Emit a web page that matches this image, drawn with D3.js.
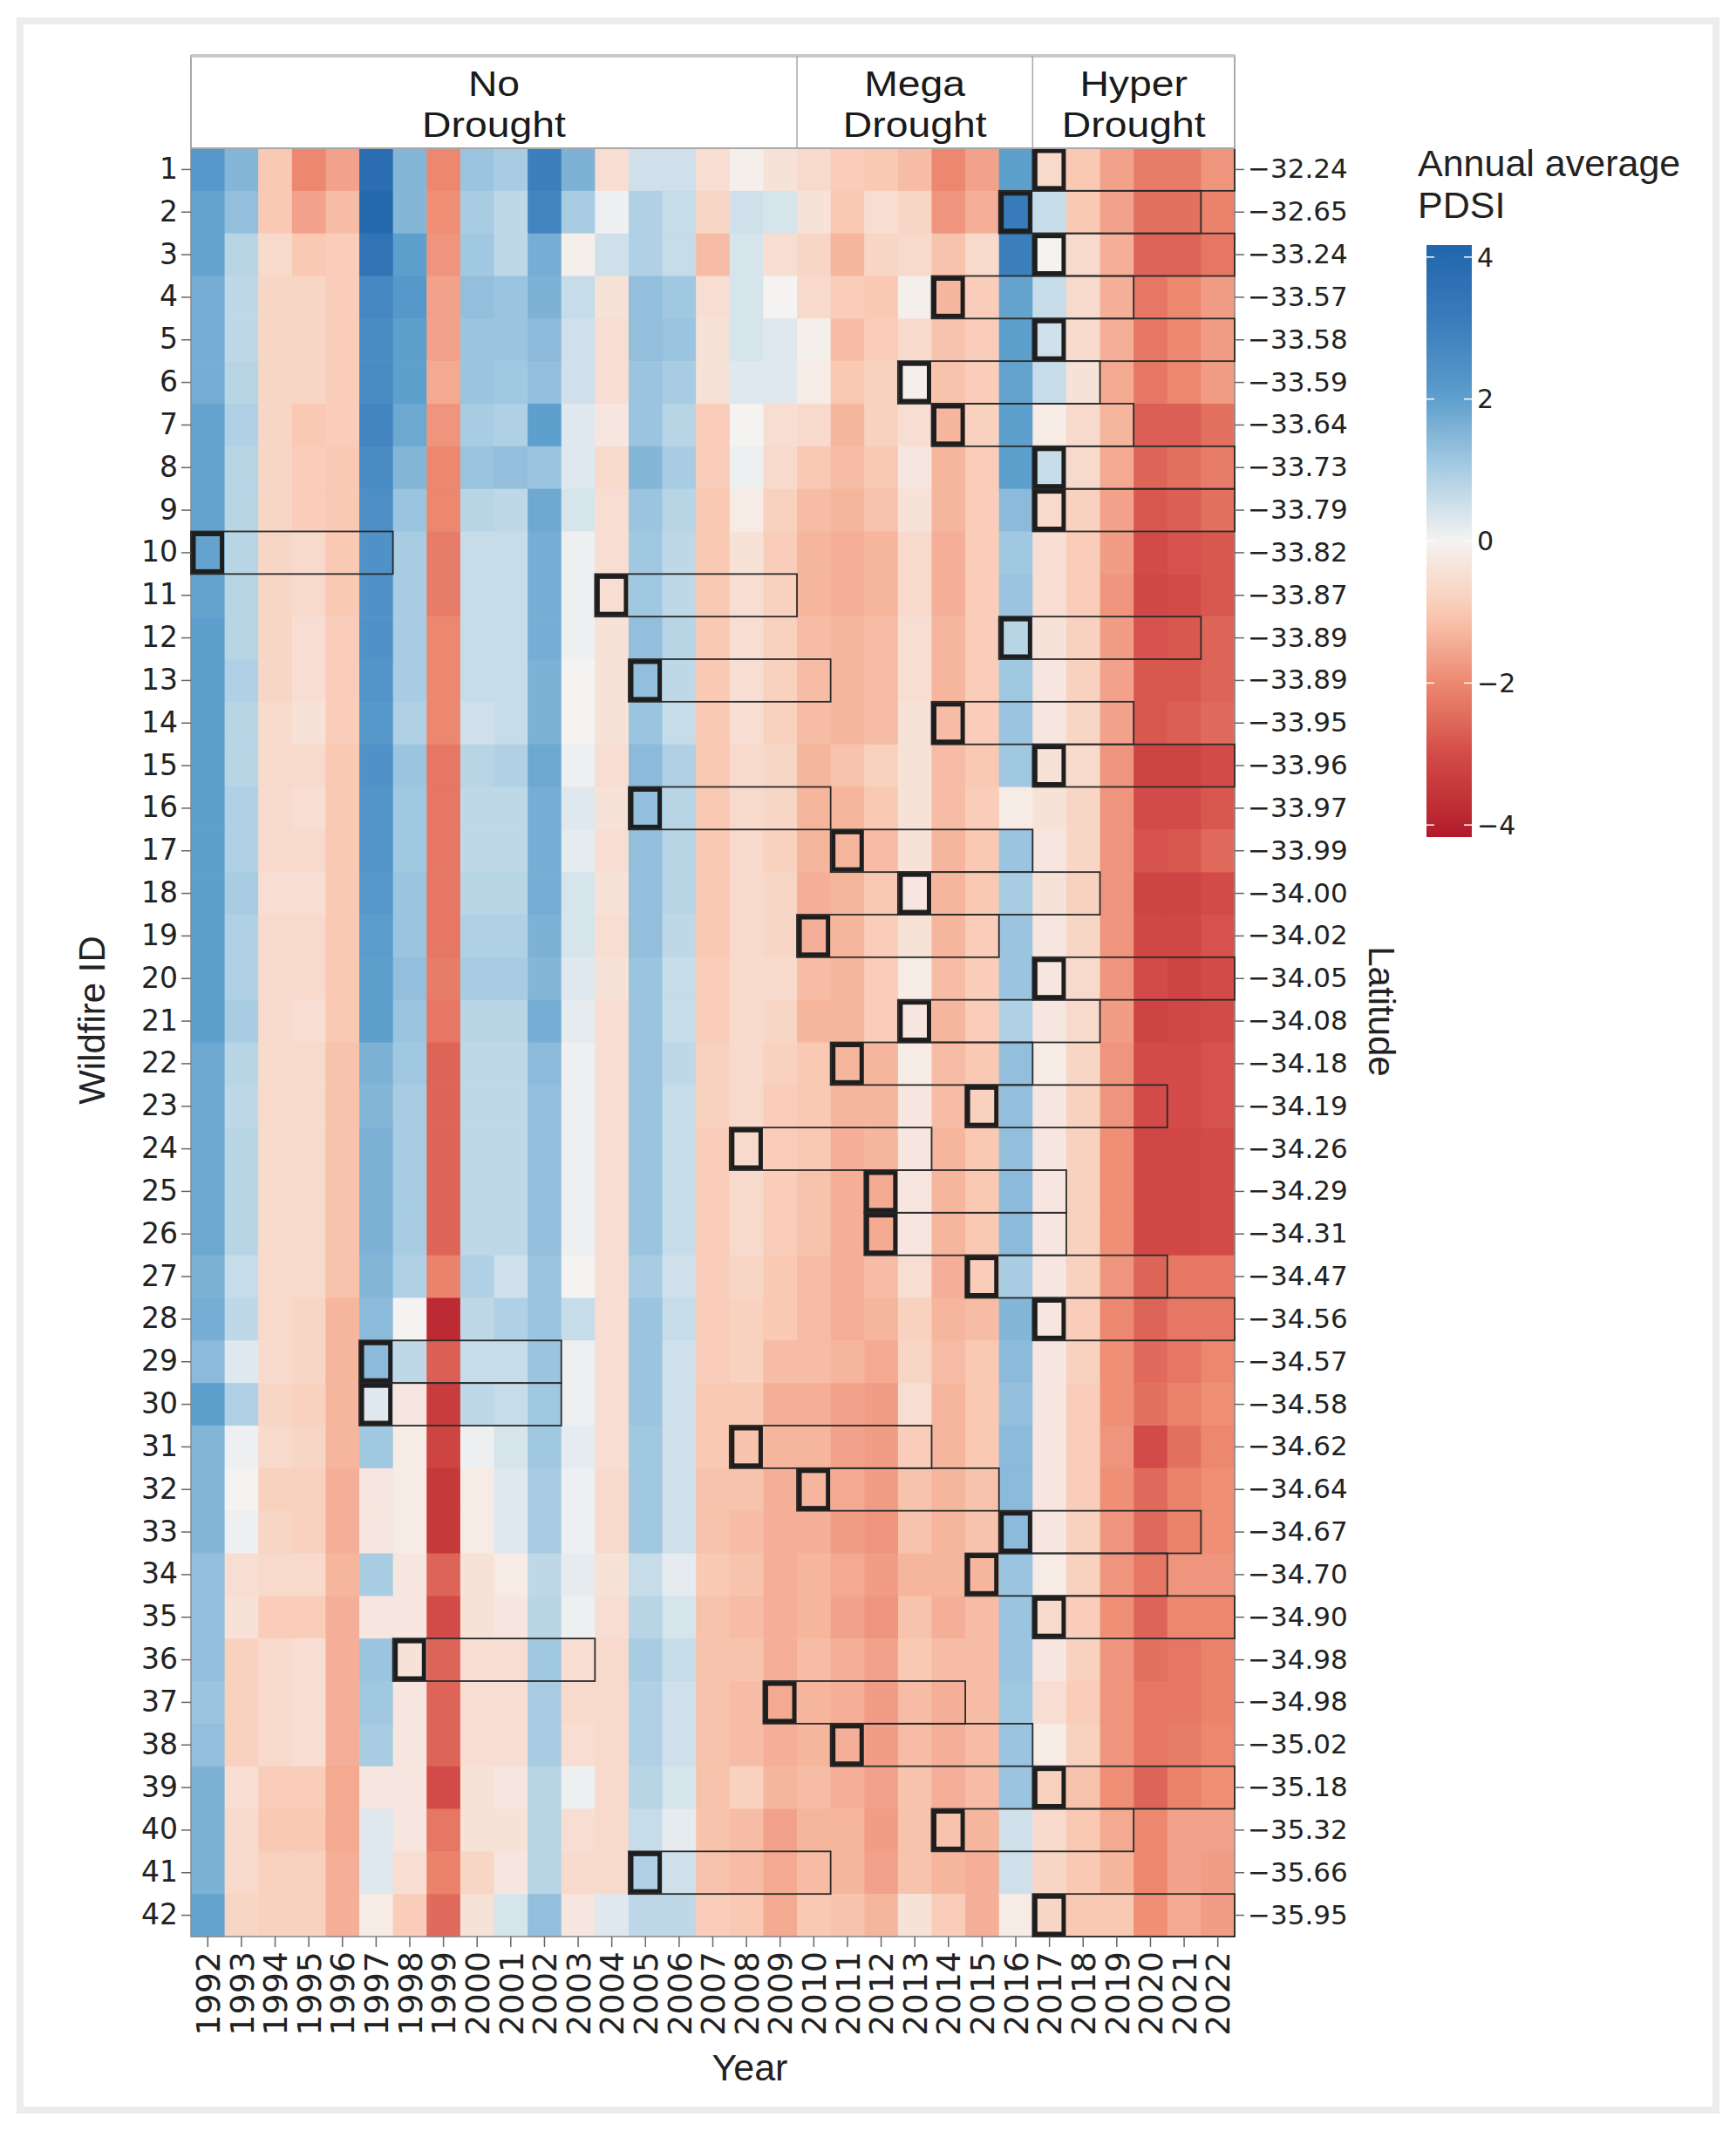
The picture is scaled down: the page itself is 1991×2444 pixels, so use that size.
<!DOCTYPE html>
<html>
<head>
<meta charset="utf-8">
<script src="https://cdn.jsdelivr.net/npm/d3@7"></script>
<style>
  body { margin: 0; background: #fff; }
  svg { display: block; }
</style>
</head>
<body>
<svg id="chart" width="1991" height="2444"></svg>
<script>
// years on the x axis
const years = [1992, 1993, 1994, 1995, 1996, 1997, 1998, 1999, 2000, 2001, 2002,
  2003, 2004, 2005, 2006, 2007, 2008, 2009, 2010, 2011, 2012, 2013, 2014, 2015,
  2016, 2017, 2018, 2019, 2020, 2021, 2022];

// wildfire ids, top to bottom
const wildfireIds = [1, 2, 3, 4, 5, 6, 7, 8, 9, 10, 11, 12, 13, 14, 15, 16, 17, 18, 19, 20,
  21, 22, 23, 24, 25, 26, 27, 28, 29, 30, 31, 32, 33, 34, 35, 36, 37, 38, 39, 40, 41, 42];

// latitude of each wildfire (right axis)
const latitudes = [-32.24, -32.65, -33.24, -33.57, -33.58, -33.59, -33.64, -33.73, -33.79,
  -33.82, -33.87, -33.89, -33.89, -33.95, -33.96, -33.97, -33.99, -34.00, -34.02, -34.05,
  -34.08, -34.18, -34.19, -34.26, -34.29, -34.31, -34.47, -34.56, -34.57, -34.58, -34.62,
  -34.64, -34.67, -34.70, -34.90, -34.98, -34.98, -35.02, -35.18, -35.32, -35.66, -35.95];

// year of each wildfire (bold box); the thin box runs 5 years after it
const fireYears = [2017, 2016, 2017, 2014, 2017, 2013, 2014, 2017, 2017, 1992, 2004, 2016,
  2005, 2014, 2017, 2005, 2011, 2013, 2010, 2017, 2013, 2011, 2015, 2008, 2012, 2012, 2015,
  2017, 1997, 1997, 2008, 2010, 2016, 2015, 2017, 1998, 2009, 2011, 2017, 2014, 2005, 2017];
const yearsAfter = 5;

// drought periods shown in the header strip
const periodNames = ["No\nDrought", "Mega\nDrought", "Hyper\nDrought"];
const periodStart = [1992, 2010, 2017];
const periodEnd = [2009, 2016, 2022];

// annual average PDSI, one row per wildfire, 1992..2022
const pdsi = [
  [2.2, 1.5, -1.0, -2.0, -1.6, 3.8, 1.5, -2.0, 1.2, 1.0, 3.0, 1.6, -0.5, 0.5, 0.5, -0.5, -0.1, -0.4, -0.6, -0.9, -1.0, -1.2, -2.0, -1.6, 2.0, -0.6, -1.0, -1.6, -2.2, -2.2, -1.8],
  [1.9, 1.3, -1.0, -1.6, -1.2, 4.0, 1.5, -1.9, 1.0, 0.7, 2.8, 1.0, 0.1, 0.9, 0.6, -0.7, 0.5, 0.4, -0.4, -1.0, -0.5, -0.7, -1.8, -1.4, 3.2, 0.6, -1.0, -1.6, -2.4, -2.4, -2.1],
  [1.9, 0.8, -0.6, -1.0, -0.9, 3.5, 2.0, -1.8, 1.1, 0.7, 1.7, -0.1, 0.5, 0.9, 0.6, -1.2, 0.4, -0.5, -0.7, -1.3, -0.7, -0.6, -1.1, -0.6, 3.0, 0.0, -0.6, -1.4, -2.6, -2.6, -2.3],
  [1.7, 0.7, -0.7, -0.7, -0.9, 2.7, 2.2, -1.6, 1.3, 1.2, 1.6, 0.6, -0.4, 1.3, 1.1, -0.5, 0.4, 0.0, -0.6, -0.9, -1.0, -0.1, -1.3, -0.9, 1.9, 0.6, -0.6, -1.4, -2.3, -2.0, -1.7],
  [1.7, 0.7, -0.7, -0.7, -0.9, 2.6, 2.0, -1.6, 1.2, 1.2, 1.4, 0.5, -0.5, 1.3, 1.2, -0.4, 0.4, 0.3, -0.1, -1.2, -0.9, -0.6, -1.1, -0.9, 2.0, 0.5, -0.6, -1.4, -2.3, -2.0, -1.7],
  [1.7, 0.8, -0.7, -0.7, -0.9, 2.6, 2.0, -1.5, 1.2, 1.1, 1.3, 0.5, -0.5, 1.2, 1.0, -0.4, 0.3, 0.3, -0.2, -1.0, -0.8, -0.1, -1.1, -0.9, 1.9, 0.6, -0.4, -1.5, -2.3, -2.0, -1.7],
  [1.9, 0.9, -0.7, -1.0, -0.9, 2.8, 1.8, -1.8, 1.0, 0.9, 2.0, 0.3, -0.3, 1.2, 0.8, -0.9, 0.0, -0.5, -0.6, -1.3, -0.8, -0.5, -1.3, -0.8, 2.0, -0.2, -0.6, -1.3, -2.7, -2.7, -2.4],
  [1.9, 0.8, -0.7, -0.9, -1.0, 2.6, 1.5, -2.0, 1.2, 1.3, 1.2, 0.3, -0.6, 1.5, 1.0, -0.9, 0.1, -0.6, -1.0, -1.2, -1.0, -0.3, -1.3, -0.9, 2.0, 0.6, -0.6, -1.5, -2.6, -2.4, -2.2],
  [1.9, 0.8, -0.7, -0.9, -1.0, 2.5, 1.2, -2.0, 0.8, 0.7, 1.8, 0.4, -0.5, 1.2, 0.8, -1.0, -0.2, -0.8, -1.2, -1.3, -1.1, -0.4, -1.3, -0.9, 1.4, -0.6, -0.8, -1.6, -2.8, -2.7, -2.4],
  [1.9, 0.8, -0.7, -0.6, -1.0, 2.4, 1.0, -2.2, 0.6, 0.6, 1.7, 0.1, -0.5, 1.1, 0.7, -1.0, -0.4, -0.9, -1.3, -1.4, -1.3, -0.6, -1.4, -0.9, 1.1, -0.5, -0.9, -1.7, -3.0, -2.9, -2.8],
  [1.9, 0.8, -0.7, -0.6, -1.0, 2.4, 1.0, -2.2, 0.6, 0.6, 1.7, 0.1, -0.5, 1.1, 0.7, -1.0, -0.5, -0.8, -1.3, -1.4, -1.3, -0.6, -1.4, -0.9, 1.2, -0.5, -0.9, -1.8, -3.1, -3.0, -2.8],
  [2.0, 0.8, -0.7, -0.5, -0.9, 2.4, 1.0, -2.0, 0.6, 0.6, 1.7, 0.1, -0.4, 1.3, 0.8, -1.0, -0.5, -0.8, -1.2, -1.3, -1.2, -0.5, -1.3, -0.9, 0.8, -0.4, -0.8, -1.7, -2.9, -2.8, -2.6],
  [2.0, 0.9, -0.7, -0.5, -0.9, 2.3, 1.0, -2.0, 0.6, 0.6, 1.6, 0.0, -0.4, 1.3, 0.7, -1.0, -0.5, -0.8, -1.2, -1.3, -1.2, -0.5, -1.3, -0.9, 1.1, -0.3, -0.8, -1.6, -2.8, -2.8, -2.6],
  [2.0, 0.8, -0.6, -0.4, -0.9, 2.2, 0.9, -2.0, 0.5, 0.6, 1.6, 0.0, -0.4, 1.2, 0.6, -1.0, -0.5, -0.8, -1.2, -1.3, -1.2, -0.4, -1.2, -0.9, 1.2, -0.3, -0.7, -1.6, -2.8, -2.7, -2.5],
  [2.0, 0.8, -0.6, -0.6, -1.0, 2.4, 1.2, -2.3, 0.8, 0.9, 1.8, 0.1, -0.5, 1.4, 0.9, -1.0, -0.6, -0.7, -1.3, -1.1, -0.8, -0.4, -1.2, -1.0, 1.1, -0.4, -0.6, -1.8, -3.2, -3.2, -3.0],
  [2.0, 0.9, -0.6, -0.5, -1.0, 2.3, 1.1, -2.3, 0.7, 0.7, 1.7, 0.3, -0.4, 1.3, 0.8, -1.0, -0.6, -0.7, -1.3, -1.3, -1.0, -0.4, -1.2, -0.9, -0.2, -0.4, -0.7, -1.8, -3.0, -3.0, -2.8],
  [2.0, 0.9, -0.6, -0.6, -1.0, 2.3, 1.1, -2.3, 0.7, 0.7, 1.7, 0.2, -0.5, 1.3, 0.8, -1.0, -0.6, -0.8, -1.3, -1.3, -1.2, -0.4, -1.3, -1.0, 1.2, -0.3, -0.7, -1.8, -2.9, -2.8, -2.5],
  [2.0, 1.0, -0.5, -0.5, -1.0, 2.2, 1.2, -2.3, 0.8, 0.8, 1.7, 0.4, -0.4, 1.3, 0.8, -1.0, -0.6, -0.7, -1.4, -1.3, -1.0, -0.3, -1.3, -1.0, 1.0, -0.4, -0.8, -1.8, -3.2, -3.2, -3.0],
  [2.0, 0.9, -0.6, -0.6, -1.0, 2.1, 1.2, -2.3, 0.9, 0.9, 1.6, 0.4, -0.5, 1.3, 0.7, -1.0, -0.6, -0.7, -1.4, -1.3, -0.9, -0.4, -1.3, -0.9, 1.2, -0.3, -0.7, -1.8, -3.1, -3.1, -2.9],
  [2.0, 0.9, -0.6, -0.6, -1.0, 2.0, 1.3, -2.2, 1.0, 1.0, 1.5, 0.3, -0.4, 1.2, 0.6, -0.9, -0.6, -0.6, -1.2, -1.3, -0.9, -0.2, -1.2, -0.9, 1.2, -0.3, -0.6, -1.8, -3.0, -3.2, -3.0],
  [2.0, 1.0, -0.6, -0.5, -1.0, 2.0, 1.2, -2.3, 0.8, 0.8, 1.7, 0.2, -0.5, 1.2, 0.6, -0.9, -0.6, -0.7, -1.3, -1.3, -0.9, -0.3, -1.3, -0.9, 0.9, -0.3, -0.6, -1.7, -3.2, -3.1, -3.0],
  [1.8, 0.8, -0.6, -0.6, -1.1, 1.6, 1.1, -2.6, 0.7, 0.7, 1.4, 0.1, -0.5, 1.2, 0.7, -0.8, -0.6, -0.8, -1.0, -1.3, -1.3, -0.2, -1.2, -1.0, 1.3, -0.2, -0.7, -1.8, -3.0, -3.0, -2.9],
  [1.8, 0.7, -0.6, -0.6, -1.1, 1.5, 1.0, -2.6, 0.7, 0.7, 1.3, 0.1, -0.5, 1.2, 0.6, -0.8, -0.6, -0.9, -1.0, -1.3, -1.3, -0.3, -1.2, -0.8, 1.3, -0.3, -0.8, -1.8, -3.0, -3.0, -2.9],
  [1.8, 0.8, -0.6, -0.6, -1.1, 1.6, 1.0, -2.6, 0.7, 0.7, 1.3, 0.1, -0.5, 1.2, 0.6, -0.9, -0.6, -0.9, -1.0, -1.4, -1.3, -0.3, -1.3, -1.0, 1.3, -0.3, -0.8, -1.9, -3.1, -3.1, -3.0],
  [1.8, 0.8, -0.6, -0.6, -1.1, 1.6, 1.0, -2.6, 0.7, 0.7, 1.3, 0.1, -0.5, 1.2, 0.6, -0.9, -0.6, -0.9, -1.1, -1.4, -1.5, -0.3, -1.3, -1.0, 1.4, -0.3, -0.8, -1.9, -3.1, -3.1, -3.0],
  [1.8, 0.8, -0.6, -0.6, -1.1, 1.6, 1.0, -2.6, 0.7, 0.7, 1.3, 0.1, -0.5, 1.2, 0.6, -0.9, -0.6, -0.9, -1.1, -1.4, -1.5, -0.3, -1.3, -1.0, 1.4, -0.3, -0.8, -1.9, -3.1, -3.1, -3.0],
  [1.6, 0.6, -0.6, -0.6, -1.1, 1.5, 0.9, -2.1, 0.9, 0.5, 1.2, 0.0, -0.5, 1.0, 0.5, -0.9, -0.7, -1.0, -1.2, -1.4, -1.2, -0.5, -1.4, -0.9, 1.0, -0.3, -0.8, -1.8, -2.6, -2.3, -2.3],
  [1.7, 0.7, -0.6, -0.7, -1.3, 1.4, 0.0, -3.8, 0.7, 0.9, 1.2, 0.6, -0.5, 1.2, 0.6, -0.9, -0.8, -1.0, -1.2, -1.4, -1.3, -0.8, -1.3, -1.2, 1.5, -0.3, -0.9, -2.0, -2.6, -2.3, -2.3],
  [1.4, 0.3, -0.6, -0.7, -1.3, 1.4, 0.7, -2.7, 0.6, 0.6, 1.2, 0.1, -0.5, 1.2, 0.5, -0.9, -0.8, -1.2, -1.2, -1.3, -1.5, -0.7, -1.2, -1.0, 1.4, -0.3, -0.8, -1.9, -2.5, -2.3, -2.0],
  [2.0, 0.9, -0.7, -0.8, -1.3, 0.3, -0.3, -3.4, 0.7, 0.6, 1.1, 0.1, -0.5, 1.2, 0.5, -1.0, -1.0, -1.4, -1.4, -1.6, -1.7, -0.5, -1.3, -1.0, 1.3, -0.3, -0.9, -1.9, -2.4, -2.1, -1.9],
  [1.5, 0.1, -0.6, -0.7, -1.3, 1.1, -0.2, -3.2, 0.1, 0.4, 1.1, 0.2, -0.5, 1.1, 0.5, -1.0, -1.1, -1.3, -1.3, -1.6, -1.7, -0.9, -1.3, -1.0, 1.4, -0.3, -0.9, -1.8, -3.0, -2.4, -2.0],
  [1.5, 0.0, -0.8, -0.8, -1.4, -0.3, -0.2, -3.5, -0.2, 0.3, 1.0, 0.1, -0.6, 1.1, 0.5, -1.1, -1.1, -1.4, -1.3, -1.5, -1.7, -1.1, -1.3, -1.1, 1.4, -0.3, -0.9, -1.9, -2.5, -2.1, -1.9],
  [1.5, 0.1, -0.7, -0.8, -1.4, -0.3, -0.2, -3.5, -0.2, 0.3, 1.0, 0.1, -0.6, 1.1, 0.5, -1.1, -1.2, -1.4, -1.4, -1.7, -1.8, -1.1, -1.3, -1.1, 1.4, -0.3, -0.8, -1.8, -2.5, -2.1, -1.9],
  [1.3, -0.5, -0.6, -0.6, -1.3, 1.0, -0.3, -2.6, -0.4, -0.2, 0.7, 0.2, -0.4, 0.6, 0.2, -1.0, -1.1, -1.4, -1.3, -1.5, -1.7, -1.3, -1.3, -1.3, 1.2, -0.2, -0.8, -1.8, -2.3, -1.8, -1.8],
  [1.3, -0.4, -0.9, -0.9, -1.4, -0.3, -0.3, -3.0, -0.4, -0.3, 0.8, 0.1, -0.5, 0.8, 0.4, -1.1, -1.2, -1.4, -1.3, -1.6, -1.8, -1.1, -1.4, -1.2, 1.2, -0.6, -0.9, -1.9, -2.6, -2.0, -2.0],
  [1.3, -0.8, -0.6, -0.5, -1.4, 1.2, -0.4, -2.6, -0.5, -0.5, 1.1, -0.5, -0.6, 1.0, 0.6, -1.1, -1.1, -1.4, -1.2, -1.4, -1.6, -1.0, -1.2, -1.2, 1.2, -0.3, -0.8, -1.8, -2.4, -2.3, -2.1],
  [1.2, -0.8, -0.6, -0.5, -1.4, 1.1, -0.3, -2.6, -0.5, -0.5, 1.0, -0.6, -0.6, 0.9, 0.5, -1.1, -1.2, -1.5, -1.3, -1.4, -1.7, -1.2, -1.4, -1.2, 1.1, -0.5, -0.9, -1.8, -2.3, -2.3, -2.1],
  [1.3, -0.8, -0.6, -0.5, -1.4, 1.0, -0.3, -2.6, -0.5, -0.5, 1.0, -0.5, -0.6, 0.9, 0.5, -1.1, -1.2, -1.4, -1.3, -1.4, -1.7, -1.2, -1.4, -1.2, 1.2, -0.2, -0.8, -1.8, -2.3, -2.2, -2.0],
  [1.6, -0.5, -0.9, -0.9, -1.5, -0.3, -0.3, -3.0, -0.4, -0.3, 0.8, 0.1, -0.6, 0.8, 0.4, -1.1, -0.8, -1.3, -1.2, -1.4, -1.6, -1.1, -1.4, -1.2, 1.2, -0.8, -1.1, -1.9, -2.6, -2.1, -1.9],
  [1.6, -0.6, -1.0, -1.0, -1.5, 0.3, -0.3, -2.3, -0.4, -0.4, 0.8, -0.5, -0.6, 0.6, 0.2, -1.1, -1.2, -1.6, -1.3, -1.3, -1.7, -1.1, -1.1, -1.3, 0.5, -0.6, -1.0, -1.5, -2.0, -1.6, -1.6],
  [1.6, -0.6, -0.8, -0.8, -1.4, 0.3, -0.5, -2.1, -0.7, -0.3, 0.8, -0.6, -0.6, 0.9, 0.5, -1.1, -1.2, -1.5, -1.2, -1.3, -1.6, -1.1, -1.3, -1.4, 0.5, -0.7, -1.0, -1.3, -2.0, -1.6, -1.7],
  [1.9, -0.7, -0.8, -0.8, -1.4, -0.2, -0.9, -2.5, -0.4, 0.4, 1.3, -0.3, 0.3, 0.7, 0.7, -0.9, -1.0, -1.5, -1.0, -1.1, -1.3, -0.4, -0.9, -1.4, -0.2, -0.7, -1.0, -1.0, -1.9, -1.5, -1.7]
];

// colour bar ticks, and the red-blue ramp
const legendTicks = [4, 2, 0, -2, -4];
const pdsiLimit = 4.17;
const rampValues = [-4.17, -3, -2, -1, 0, 1, 2, 3, 4.17];
const rampColors = ["#b2182b", "#d34b48", "#ec8870", "#f9c9b3", "#f4f3f2",
  "#a8cde3", "#5d9fcd", "#3b7fbd", "#2166ac"];

const svg = d3.select("#chart");
const tickFont = "DejaVu Sans, Verdana, sans-serif";
const titleFont = "Liberation Sans, Arial, Helvetica, sans-serif";

// light frame round the figure
svg.append("rect")
  .attr("x", 23).attr("y", 24)
  .attr("width", 1945).attr("height", 2396)
  .attr("fill", "#fff")
  .attr("stroke", "#ececec")
  .attr("stroke-width", 8);

// scales
const x = d3.scaleBand().domain(years).range([219, 1416]);
const y = d3.scaleBand().domain(wildfireIds).range([170, 2221]);
const color = d3.scaleLinear()
  .domain(rampValues)
  .range(rampColors)
  .interpolate(d3.interpolateLab)
  .clamp(true);

// cells
const cells = [];
pdsi.forEach((row, i) => {
  row.forEach((v, j) => cells.push({ id: wildfireIds[i], year: years[j], value: v }));
});

svg.append("g")
  .selectAll("rect")
  .data(cells)
  .join("rect")
  .attr("x", d => x(d.year))
  .attr("y", d => y(d.id))
  .attr("width", x.bandwidth() + 0.6)
  .attr("height", y.bandwidth() + 0.6)
  .attr("fill", d => color(d.value));

// panel border
svg.append("rect")
  .attr("x", 219).attr("y", 170)
  .attr("width", 1416 - 219).attr("height", 2221 - 170)
  .attr("fill", "none")
  .attr("stroke", "#8a8a8a")
  .attr("stroke-width", 1.5);

// thin box: fire year plus the following years
const fires = wildfireIds.map((id, i) => ({
  id: id,
  start: fireYears[i],
  end: Math.min(fireYears[i] + yearsAfter, years[years.length - 1])
}));

svg.append("g")
  .selectAll("rect")
  .data(fires)
  .join("rect")
  .attr("x", d => x(d.start))
  .attr("y", d => y(d.id))
  .attr("width", d => x(d.end) + x.bandwidth() - x(d.start))
  .attr("height", y.bandwidth())
  .attr("fill", "none")
  .attr("stroke", "#2b2b2b")
  .attr("stroke-width", 1.8);

// bold box on the fire year
svg.append("g")
  .selectAll("rect")
  .data(fires)
  .join("rect")
  .attr("x", d => x(d.start) + 3)
  .attr("y", d => y(d.id) + 3)
  .attr("width", x.bandwidth() - 6)
  .attr("height", y.bandwidth() - 6)
  .attr("fill", "none")
  .attr("stroke", "#1e1e1e")
  .attr("stroke-width", 5);

// axes
function styleAxis(g, size) {
  g.select(".domain").remove();
  g.selectAll(".tick line").attr("stroke", "#666").attr("stroke-width", 1.5);
  g.selectAll(".tick text")
    .attr("fill", "#222")
    .style("font-family", tickFont)
    .style("font-size", size + "px");
}

svg.append("g")
  .attr("transform", "translate(219,0)")
  .call(d3.axisLeft(y).tickSize(11).tickPadding(4))
  .call(g => styleAxis(g, 33));

svg.append("g")
  .attr("transform", "translate(1416,0)")
  .call(d3.axisRight(y).tickSize(11).tickPadding(4)
    .tickFormat(id => d3.format(".2f")(latitudes[wildfireIds.indexOf(id)])))
  .call(g => styleAxis(g, 31));

svg.append("g")
  .attr("transform", "translate(0,2221)")
  .call(d3.axisBottom(x).tickSize(12))
  .call(g => styleAxis(g, 38))
  .call(g => g.selectAll(".tick text")
    .attr("transform", "rotate(-90)")
    .attr("x", -17)
    .attr("y", 0)
    .attr("dy", "0.36em")
    .attr("text-anchor", "end"));

// axis titles
svg.append("text")
  .attr("x", 860).attr("y", 2386)
  .attr("text-anchor", "middle")
  .style("font-family", titleFont).style("font-size", "43px").attr("fill", "#222")
  .text("Year");

svg.append("text")
  .attr("transform", "translate(120,1170) rotate(-90)")
  .attr("text-anchor", "middle")
  .style("font-family", titleFont).style("font-size", "42px").attr("fill", "#222")
  .text("Wildfire ID");

svg.append("text")
  .attr("transform", "translate(1570,1160) rotate(90)")
  .attr("text-anchor", "middle")
  .style("font-family", titleFont).style("font-size", "42px").attr("fill", "#222")
  .text("Latitude");

// header strip with drought periods
const strip = svg.append("g");
strip.append("rect")
  .attr("x", 219).attr("y", 64)
  .attr("width", 1416 - 219).attr("height", 170 - 64)
  .attr("fill", "#fff")
  .attr("stroke", "#a8a8a8")
  .attr("stroke-width", 2);
strip.append("line")
  .attr("x1", 219).attr("x2", 1416).attr("y1", 64).attr("y2", 64)
  .attr("stroke", "#c8c8c8").attr("stroke-width", 4);

periodNames.forEach((name, i) => {
  const x0 = x(periodStart[i]);
  const x1 = x(periodEnd[i]) + x.bandwidth();
  if (i > 0) {
    strip.append("line")
      .attr("x1", x0).attr("x2", x0).attr("y1", 64).attr("y2", 170)
      .attr("stroke", "#a8a8a8").attr("stroke-width", 1.5);
  }
  // each line is its own text, a little widened like the original
  name.split("\n").forEach((line, k) => {
    strip.append("text")
      .attr("transform", `translate(${(x0 + x1) / 2},${110 + k * 47}) scale(1.13,1)`)
      .attr("text-anchor", "middle")
      .style("font-family", titleFont).style("font-size", "41px").attr("fill", "#1a1a1a")
      .text(line);
  });
});

// colour bar legend
const legendX = 1636, legendW = 52;
const ly = d3.scaleLinear().domain([pdsiLimit, -pdsiLimit]).range([281, 960]);
const grad = svg.append("defs").append("linearGradient")
  .attr("id", "pdsiGrad").attr("x1", 0).attr("x2", 0).attr("y1", 0).attr("y2", 1);
d3.range(0, 1.0001, 0.025).forEach(t => {
  grad.append("stop")
    .attr("offset", t)
    .attr("stop-color", color(pdsiLimit - t * 2 * pdsiLimit));
});
svg.append("rect")
  .attr("x", legendX).attr("y", 281)
  .attr("width", legendW).attr("height", 960 - 281)
  .attr("fill", "url(#pdsiGrad)");

const lg = svg.append("g");
legendTicks.forEach(v => {
  lg.append("line")
    .attr("x1", legendX).attr("x2", legendX + 9)
    .attr("y1", ly(v)).attr("y2", ly(v))
    .attr("stroke", "#fff").attr("stroke-width", 1.5);
  lg.append("line")
    .attr("x1", legendX + legendW - 9).attr("x2", legendX + legendW)
    .attr("y1", ly(v)).attr("y2", ly(v))
    .attr("stroke", "#fff").attr("stroke-width", 1.5);
  lg.append("text")
    .attr("x", legendX + legendW + 6).attr("y", ly(v))
    .attr("dy", "0.36em")
    .style("font-family", tickFont).style("font-size", "30px").attr("fill", "#222")
    .text(d3.format("d")(v));
});

const lt = svg.append("text")
  .style("font-family", titleFont).style("font-size", "43px").attr("fill", "#222");
lt.append("tspan").attr("x", 1626).attr("y", 202).text("Annual average");
lt.append("tspan").attr("x", 1626).attr("y", 250).text("PDSI");
</script>
</body>
</html>
